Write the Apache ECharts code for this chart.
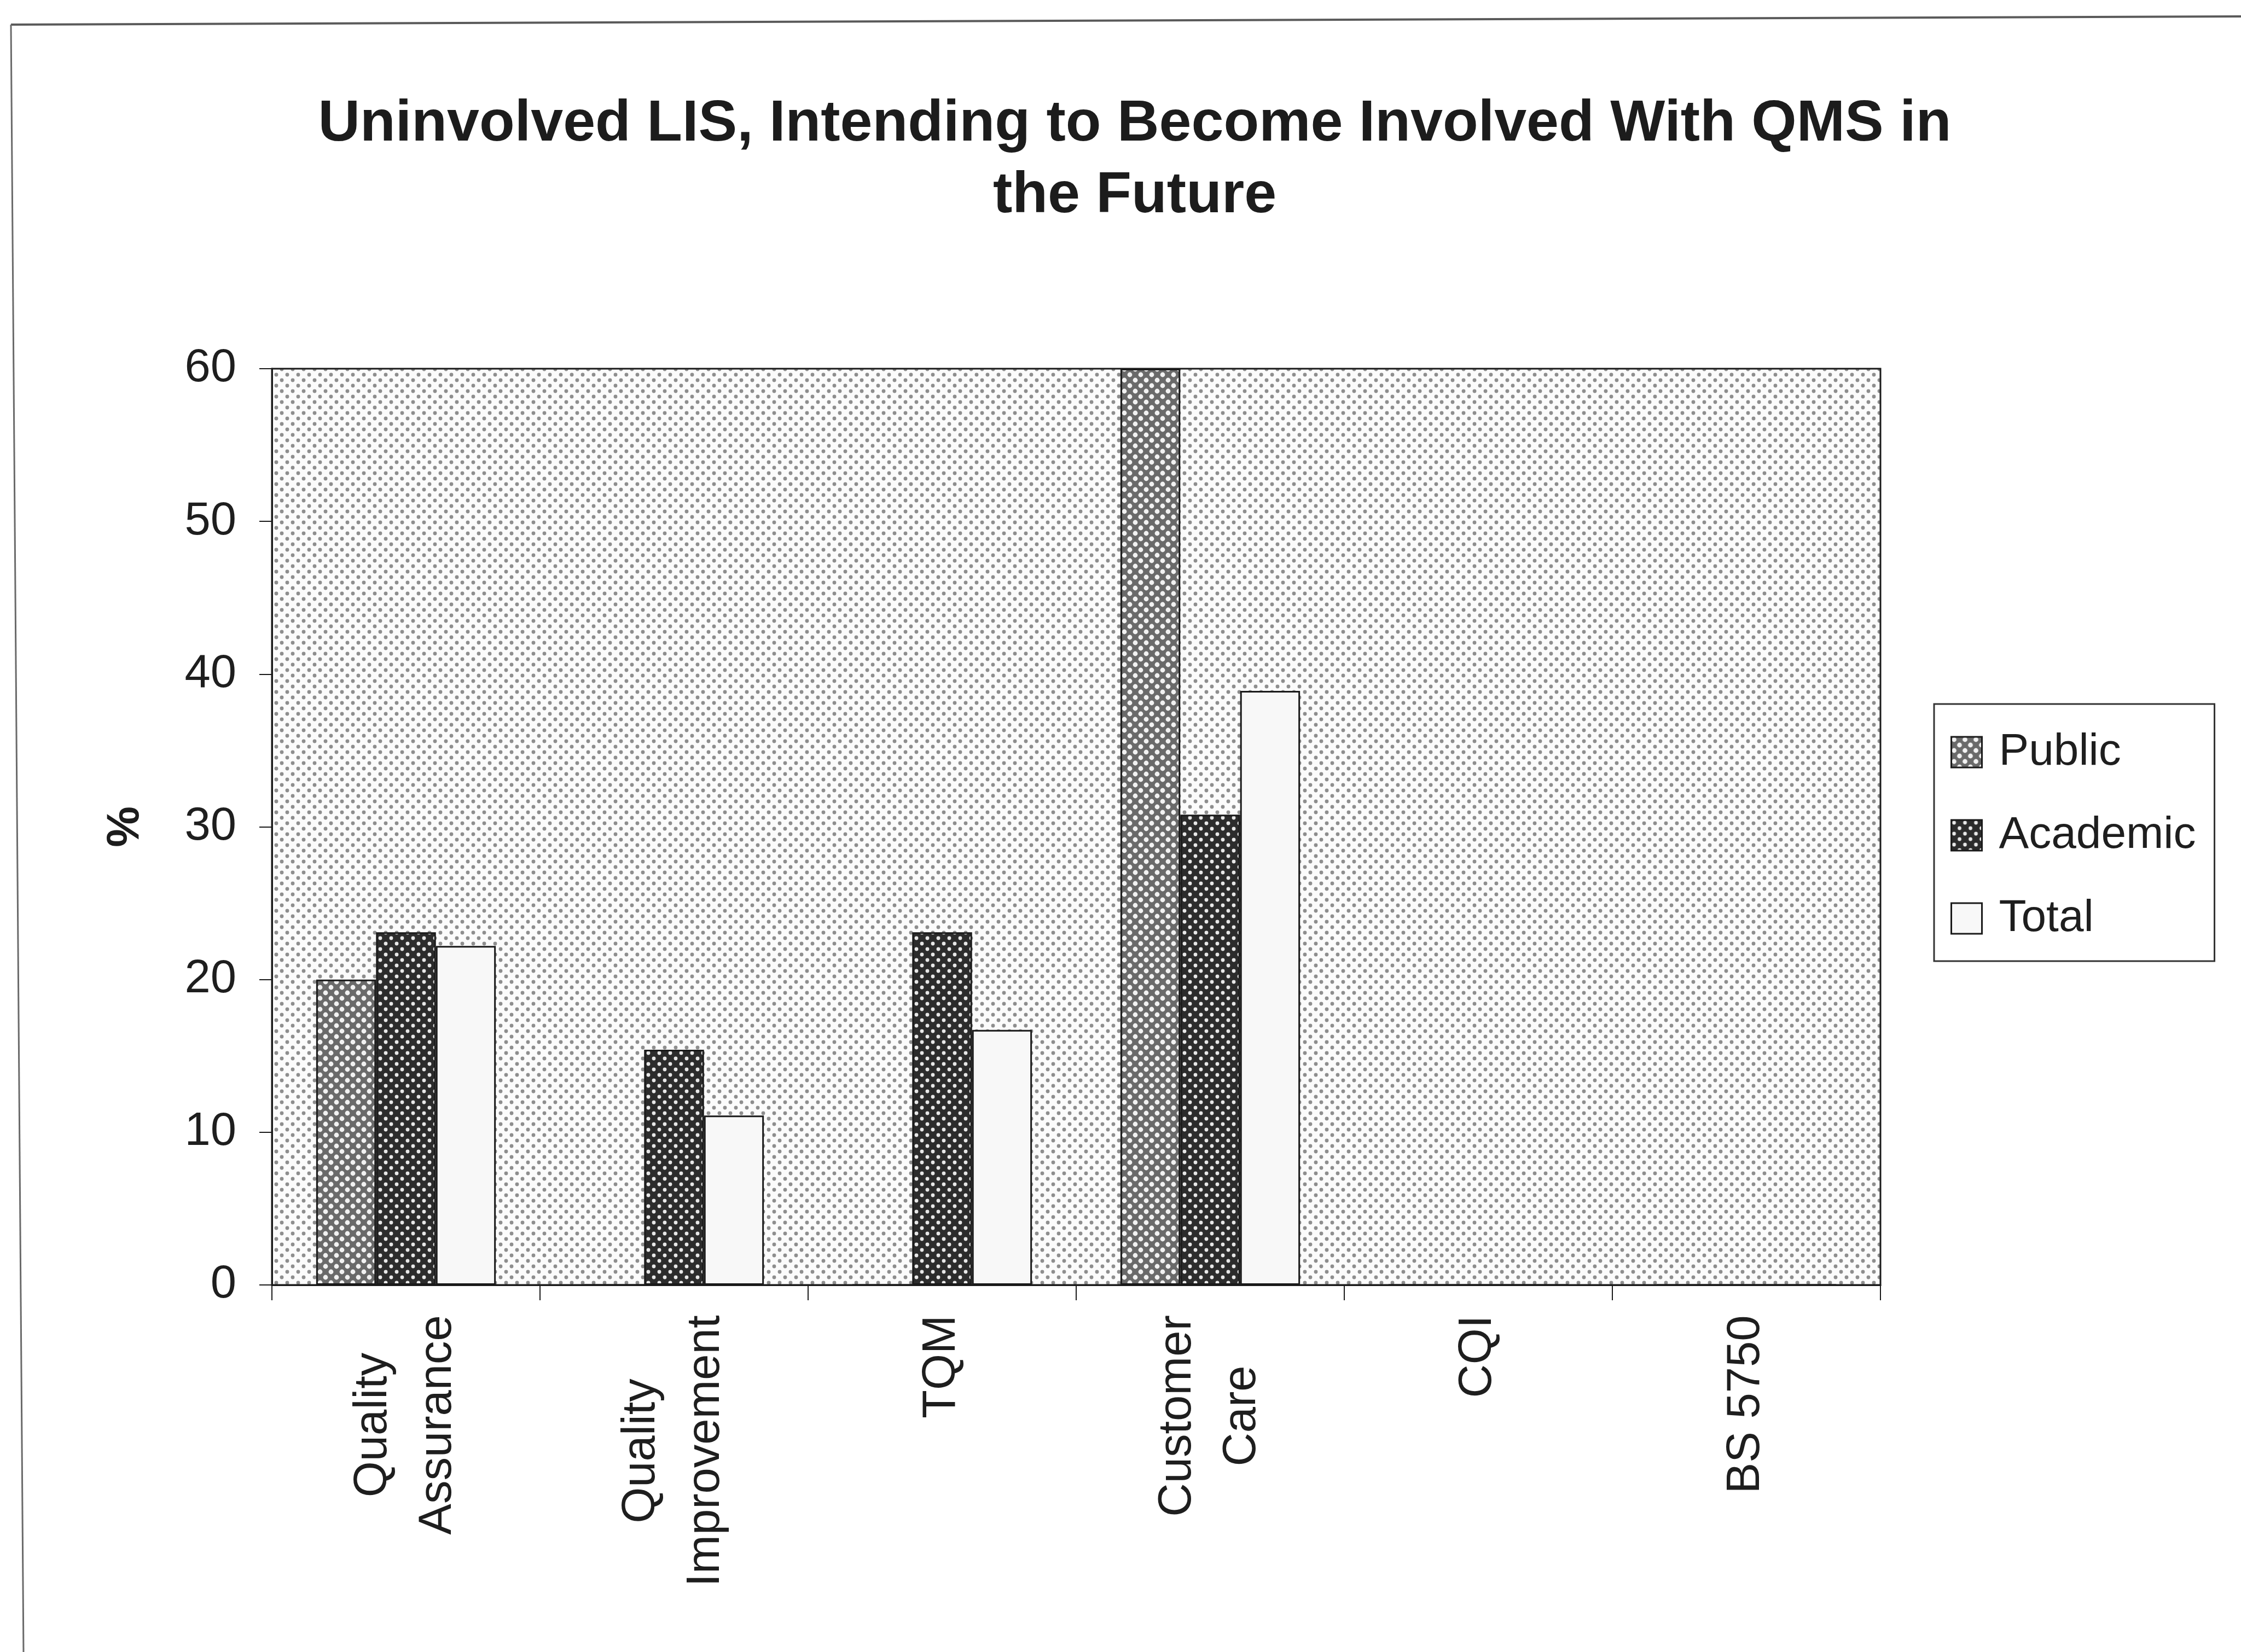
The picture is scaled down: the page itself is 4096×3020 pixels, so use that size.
<!DOCTYPE html>
<html>
<head>
<meta charset="utf-8">
<title>Uninvolved LIS, Intending to Become Involved With QMS in the Future</title>
<script src="https://cdn.jsdelivr.net/npm/echarts@6/dist/echarts.min.js"></script>
<style>
  html, body { margin: 0; padding: 0; background: #ffffff; }
  #chart { width: 4096px; height: 3020px; }
</style>
</head>
<body>
<div id="chart"></div>
<script>
// Survey results: share (%) of uninvolved library & information services
// that intend to take up each quality management approach.
const categories = ['Quality\nAssurance', 'Quality\nImprovement', 'TQM', 'Customer\nCare', 'CQI', 'BS 5750'];
const seriesNames = ['Public', 'Academic', 'Total'];
const publicPct = [20, 0, 0, 60, 0, 0];
const academicPct = [23.1, 15.4, 23.1, 30.8, 0, 0];
const totalPct = [22.2, 11.1, 16.7, 38.9, 0, 0];
const yMin = 0, yMax = 60, yStep = 10;
const titleLines = ['Uninvolved LIS, Intending to Become Involved With QMS in', 'the Future'];

const FONT = '"Liberation Sans", Arial, Helvetica, sans-serif';

// Halftone-style dot fills, built as small repeating tiles.
function dotTile(base, dot, radius, size) {
  const c = document.createElement('canvas');
  c.width = size; c.height = size;
  const g = c.getContext('2d');
  g.fillStyle = base;
  g.fillRect(0, 0, size, size);
  g.fillStyle = dot;
  const q = size / 4;
  [[q, q], [3 * q, 3 * q]].forEach(function (p) {
    g.beginPath();
    g.arc(p[0], p[1], radius, 0, Math.PI * 2);
    g.fill();
  });
  return { image: c, repeat: 'repeat' };
}
const plotFill = dotTile('#fbfbfb', '#8e8e8e', 3.4, 20);
const publicFill = dotTile('#6a6a6a', '#f2f2f2', 4.4, 20);
const academicFill = dotTile('#2c2c2c', '#e8e8e8', 3.4, 20);
const totalFill = '#f8f8f8';

// Category labels: lines centred on each other, block ending at the axis.
const X_LABEL_SIZE = 85;
const measureCtx = document.createElement('canvas').getContext('2d');
function textWidth(str, size, weight) {
  measureCtx.font = (weight || 'normal') + ' ' + size + 'px ' + FONT;
  return measureCtx.measureText(str).width;
}
const richX = {};
categories.forEach(function (cat, i) {
  const w = Math.max.apply(null, cat.split('\n').map(function (l) { return textWidth(l, X_LABEL_SIZE); }));
  richX['c' + i] = {
    width: Math.ceil(w) + 2, align: 'center',
    fontSize: X_LABEL_SIZE, lineHeight: 118, fontFamily: FONT, color: '#1e1e1e'
  };
});

const TITLE_SIZE = 106;
const titleCenterX = 2074;

const chart = echarts.init(document.getElementById('chart'), null, { renderer: 'canvas' });

const barBorder = { borderColor: '#1a1a1a', borderWidth: 3 };

chart.setOption({
  animation: false,
  backgroundColor: '#ffffff',
  title: {
    text: titleLines.join('\n'),
    left: titleCenterX,
    top: 162,
    padding: 0,
    textAlign: 'center',
    textStyle: {
      fontFamily: FONT, fontWeight: 'bold', fontSize: TITLE_SIZE,
      lineHeight: 131, color: '#1c1c1c'
    }
  },
  legend: {
    data: seriesNames,
    orient: 'vertical',
    left: 3535,
    top: 1287,
    padding: [47, 34, 37, 30],
    itemWidth: 56,
    itemHeight: 56,
    itemGap: 70,
    icon: 'rect',
    backgroundColor: '#ffffff',
    borderColor: '#333333',
    borderWidth: 3,
    borderRadius: 0,
    itemStyle: { borderColor: '#1a1a1a', borderWidth: 3 },
    textStyle: {
      fontFamily: FONT, fontSize: 82, lineHeight: 80, color: '#1e1e1e',
      padding: [0, 0, 0, 26]
    }
  },
  grid: {
    left: 497, top: 674, width: 2940, height: 1675,
    show: true,
    backgroundColor: plotFill,
    borderColor: '#1a1a1a',
    borderWidth: 3,
    containLabel: false
  },
  xAxis: {
    type: 'category',
    data: categories,
    boundaryGap: true,
    axisLine: { show: true, lineStyle: { color: '#1a1a1a', width: 3 } },
    axisTick: { show: true, inside: false, length: 28, lineStyle: { color: '#1a1a1a', width: 2 } },
    axisLabel: {
      rotate: 90,
      interval: 0,
      margin: 54,
      formatter: function (value, index) {
        return value.split('\n').map(function (l) { return '{c' + index + '|' + l + '}'; }).join('\n');
      },
      rich: richX
    },
    splitLine: { show: false }
  },
  yAxis: {
    type: 'value',
    min: yMin, max: yMax, interval: yStep,
    name: '%',
    nameLocation: 'middle',
    nameRotate: 90,
    nameGap: 225,
    nameTextStyle: { fontFamily: FONT, fontWeight: 'bold', fontSize: 84, color: '#1c1c1c' },
    axisLine: { show: true, lineStyle: { color: '#1a1a1a', width: 3 } },
    axisTick: { show: true, inside: false, length: 23, lineStyle: { color: '#1a1a1a', width: 2 } },
    axisLabel: { margin: 65, fontFamily: FONT, fontSize: 85, color: '#1e1e1e' },
    splitLine: { show: false }
  },
  series: [
    { name: seriesNames[0], type: 'bar', data: publicPct, barGap: '0%', barCategoryGap: '33%',
      itemStyle: Object.assign({ color: publicFill }, barBorder) },
    { name: seriesNames[1], type: 'bar', data: academicPct, barGap: '0%', barCategoryGap: '33%',
      itemStyle: Object.assign({ color: academicFill }, barBorder) },
    { name: seriesNames[2], type: 'bar', data: totalPct, barGap: '0%', barCategoryGap: '33%',
      itemStyle: Object.assign({ color: totalFill }, barBorder) }
  ],
  graphic: [
    // outer frame edges (top and left) of the chart sheet
    { type: 'polyline', silent: true, z: 100,
      shape: { points: [[20, 45], [4096, 30]] },
      style: { stroke: '#5a5a5a', lineWidth: 4, fill: null } },
    { type: 'polyline', silent: true, z: 100,
      shape: { points: [[20, 45], [43, 3020]] },
      style: { stroke: '#6a6a6a', lineWidth: 3, fill: null } }
  ]
});
</script>
</body>
</html>
